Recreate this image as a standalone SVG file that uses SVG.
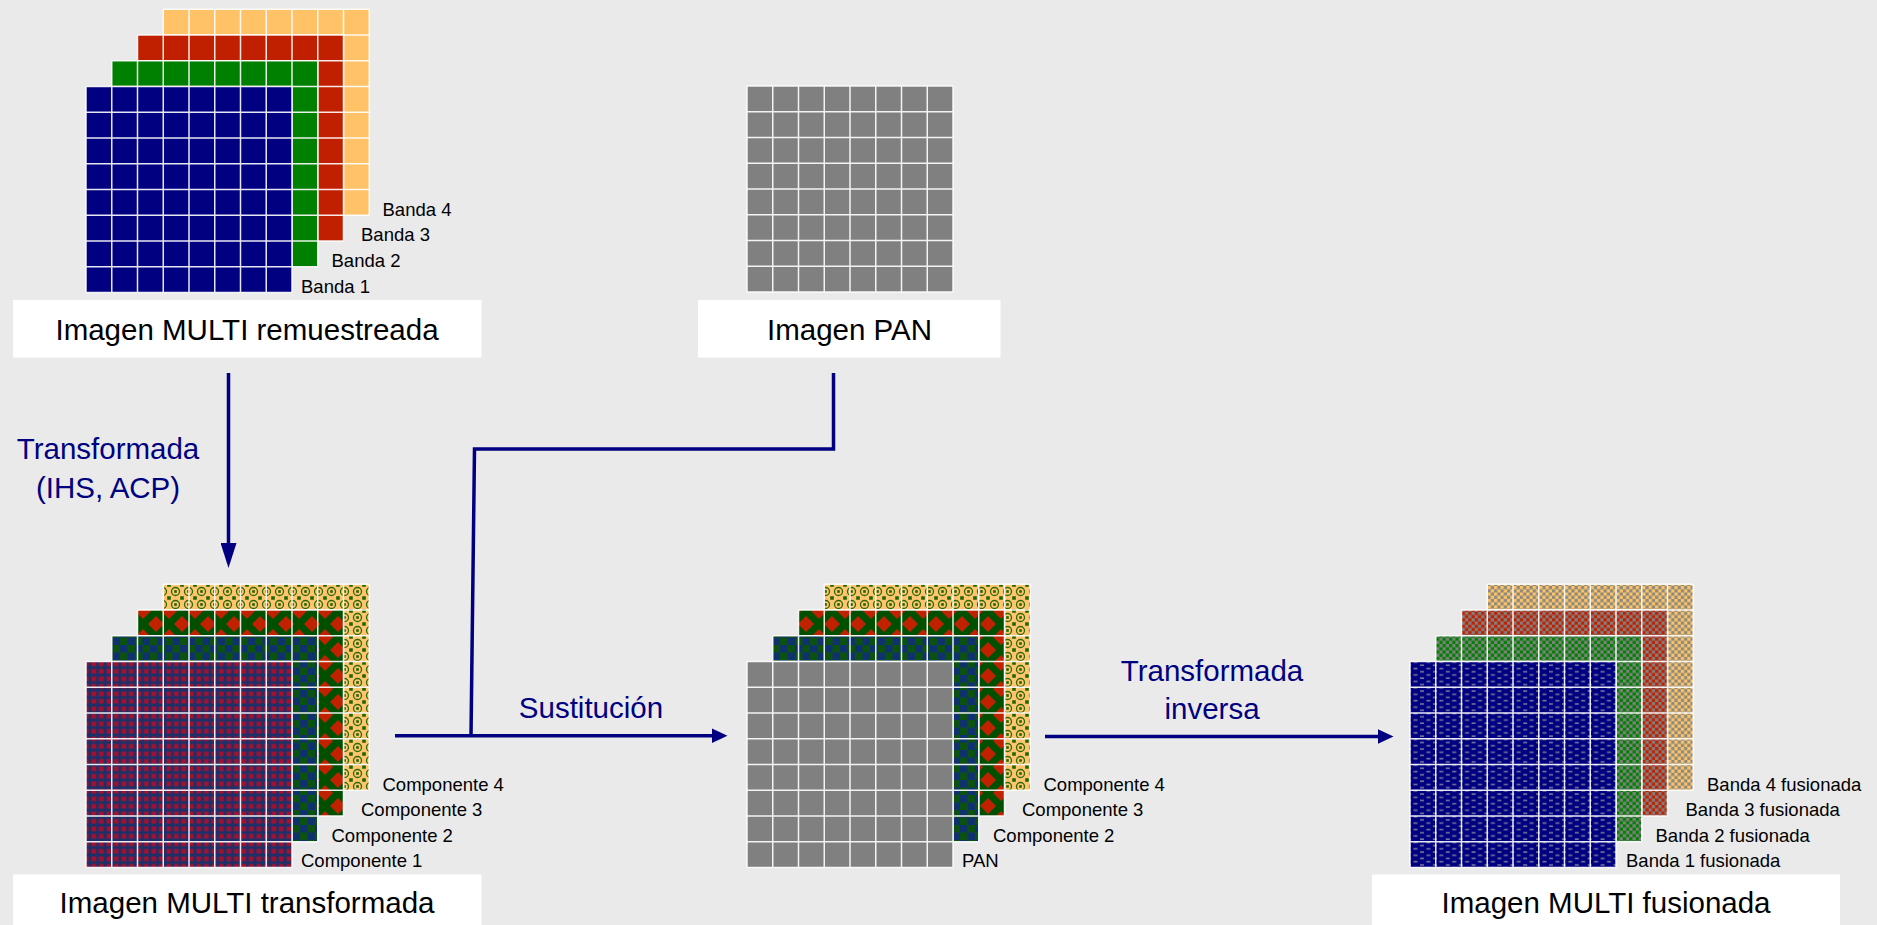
<svg xmlns="http://www.w3.org/2000/svg" xmlns:xlink="http://www.w3.org/1999/xlink" width="1877" height="925" viewBox="0 0 1877 925">
<style>
.bg{fill:#EAEAEA}
.box{fill:#FFFFFF}
.title{font-family:"Liberation Sans",Arial,sans-serif;font-size:29.5px;fill:#000000;text-anchor:middle}
.step{font-family:"Liberation Sans",Arial,sans-serif;font-size:29.5px;fill:#000080;text-anchor:middle}
.lbl{font-family:"Liberation Sans",Arial,sans-serif;font-size:18.5px;fill:#000000}
.conn{fill:none;stroke:#000080;stroke-width:3.5}
.gridl{fill:none;stroke:#FFFFFF;stroke-width:1.5;stroke-opacity:0.9}
</style>
<defs>
<path id="grid" class="gridl" d="M0 0V206M25.75 0V206M51.5 0V206M77.25 0V206M103 0V206M128.75 0V206M154.5 0V206M180.25 0V206M206 0V206M0 0H206M0 25.75H206M0 51.5H206M0 77.25H206M0 103H206M0 128.75H206M0 154.5H206M0 180.25H206M0 206H206"/>
<pattern id="p-c1" width="7.5" height="7.5" patternUnits="userSpaceOnUse">
<rect width="7.5" height="7.5" fill="#1E3068"/>
<rect x="1.5" y="1.5" width="4.6" height="4.6" fill="#A5102E"/>
</pattern>
<pattern id="p-c2" width="15" height="15" patternUnits="userSpaceOnUse">
<rect width="15" height="15" fill="#0B5210"/>
<rect width="7.5" height="7.5" fill="#0F316E"/>
<rect x="7.5" y="7.5" width="7.5" height="7.5" fill="#0F316E"/>
</pattern>
<pattern id="p-c3" width="26" height="26" patternUnits="userSpaceOnUse">
<rect width="26" height="26" fill="#005000"/>
<path d="M13 5L21 13L13 21L5 13Z M0 -8L8 0L0 8L-8 0Z M26 -8L34 0L26 8L18 0Z M0 18L8 26L0 34L-8 26Z M26 18L34 26L26 34L18 26Z" fill="#C02200"/>
</pattern>
<pattern id="p-c4" width="13" height="13" patternUnits="userSpaceOnUse">
<rect width="13" height="13" fill="#FFC46E"/>
<circle cx="6.5" cy="6.5" r="4" fill="none" stroke="#2A6A06" stroke-width="1.3"/>
<rect x="5.2" y="5.2" width="2.6" height="2.6" fill="#1E6400"/>
<path d="M0 0h1.8v1.8h-1.8z M11.2 0h1.8v1.8h-1.8z M0 11.2h1.8v1.8h-1.8z M11.2 11.2h1.8v1.8h-1.8z" fill="#1E6400"/>
</pattern>
<pattern id="p-f1" width="12.9" height="6.44" patternUnits="userSpaceOnUse">
<rect width="12.9" height="6.44" fill="#000080"/>
<rect x="1" y="1.2" width="4" height="1.6" fill="#76769A"/>
<rect x="7.4" y="4.4" width="4" height="1.6" fill="#76769A"/>
</pattern>
<pattern id="p-f2" width="6.44" height="6.44" patternUnits="userSpaceOnUse">
<rect width="6.44" height="6.44" fill="#808080"/>
<rect width="3.22" height="3.22" fill="#008000"/>
<rect x="3.22" y="3.22" width="3.22" height="3.22" fill="#008000"/>
</pattern>
<pattern id="p-f3" width="6.44" height="6.44" patternUnits="userSpaceOnUse">
<rect width="6.44" height="6.44" fill="#808080"/>
<rect width="3.22" height="3.22" fill="#C02000"/>
<rect x="3.22" y="3.22" width="3.22" height="3.22" fill="#C02000"/>
</pattern>
<pattern id="p-f4" width="6.44" height="6.44" patternUnits="userSpaceOnUse">
<rect width="6.44" height="6.44" fill="#8A8A80"/>
<rect width="3.22" height="3.22" fill="#FFC266"/>
<rect x="3.22" y="3.22" width="3.22" height="3.22" fill="#FFC266"/>
</pattern>
<marker id="ah" markerUnits="userSpaceOnUse" markerWidth="16" markerHeight="15" refX="1" refY="7.5" orient="auto">
<path d="M0 0L16 7.5L0 15Z" fill="#000080"/>
</marker>
<marker id="ahl" markerUnits="userSpaceOnUse" markerWidth="25" markerHeight="16" refX="1" refY="8" orient="auto">
<path d="M0 0L25 8L0 16Z" fill="#000080"/>
</marker>
</defs>

<rect class="bg" x="0" y="0" width="1877" height="925"/>

<g id="multi-remuestreada">
<rect x="163.25" y="9.25" width="206" height="206" fill="#FFC266"/><use xlink:href="#grid" href="#grid" x="163.25" y="9.25"/>
<rect x="137.5" y="35" width="206" height="206" fill="#C02000"/><use xlink:href="#grid" href="#grid" x="137.5" y="35"/>
<rect x="111.75" y="60.75" width="206" height="206" fill="#008000"/><use xlink:href="#grid" href="#grid" x="111.75" y="60.75"/>
<rect x="86" y="86.5" width="206" height="206" fill="#000080"/><use xlink:href="#grid" href="#grid" x="86" y="86.5"/>
<text class="lbl" x="382.5" y="215.5">Banda 4</text>
<text class="lbl" x="361" y="241">Banda 3</text>
<text class="lbl" x="331.5" y="267">Banda 2</text>
<text class="lbl" x="301" y="292.5">Banda 1</text>
<rect class="box" x="13" y="300" width="468.5" height="57.5"/>
<text class="title" x="247" y="340">Imagen MULTI remuestreada</text>
</g>

<g id="pan">
<rect x="747" y="86" width="206" height="206" fill="#808080"/><use xlink:href="#grid" href="#grid" x="747" y="86"/>
<rect class="box" x="698" y="300" width="302.5" height="57.5"/>
<text class="title" x="849.5" y="340">Imagen PAN</text>
</g>

<g id="multi-transformada">
<rect x="163.25" y="584.25" width="206" height="206" fill="url(#p-c4)"/><use xlink:href="#grid" href="#grid" x="163.25" y="584.25"/>
<rect x="137.5" y="610" width="206" height="206" fill="url(#p-c3)"/><use xlink:href="#grid" href="#grid" x="137.5" y="610"/>
<rect x="111.75" y="635.75" width="206" height="206" fill="url(#p-c2)"/><use xlink:href="#grid" href="#grid" x="111.75" y="635.75"/>
<rect x="86" y="661.5" width="206" height="206" fill="url(#p-c1)"/><use xlink:href="#grid" href="#grid" x="86" y="661.5"/>
<text class="lbl" x="382.5" y="790.5">Componente 4</text>
<text class="lbl" x="361" y="815.5">Componente 3</text>
<text class="lbl" x="331.5" y="841.5">Componente 2</text>
<text class="lbl" x="301" y="867">Componente 1</text>
<rect class="box" x="13" y="874.5" width="468.5" height="60"/>
<text class="title" x="247" y="913">Imagen MULTI transformada</text>
</g>

<g id="sustitucion-stack">
<rect x="824.25" y="584.25" width="206" height="206" fill="url(#p-c4)"/><use xlink:href="#grid" href="#grid" x="824.25" y="584.25"/>
<rect x="798.5" y="610" width="206" height="206" fill="url(#p-c3)"/><use xlink:href="#grid" href="#grid" x="798.5" y="610"/>
<rect x="772.75" y="635.75" width="206" height="206" fill="url(#p-c2)"/><use xlink:href="#grid" href="#grid" x="772.75" y="635.75"/>
<rect x="747" y="661.5" width="206" height="206" fill="#808080"/><use xlink:href="#grid" href="#grid" x="747" y="661.5"/>
<text class="lbl" x="1043.5" y="790.5">Componente 4</text>
<text class="lbl" x="1022" y="815.5">Componente 3</text>
<text class="lbl" x="993" y="841.5">Componente 2</text>
<text class="lbl" x="962" y="867">PAN</text>
</g>

<g id="multi-fusionada">
<rect x="1487.25" y="584.25" width="206" height="206" fill="url(#p-f4)"/><use xlink:href="#grid" href="#grid" x="1487.25" y="584.25"/>
<rect x="1461.5" y="610" width="206" height="206" fill="url(#p-f3)"/><use xlink:href="#grid" href="#grid" x="1461.5" y="610"/>
<rect x="1435.75" y="635.75" width="206" height="206" fill="url(#p-f2)"/><use xlink:href="#grid" href="#grid" x="1435.75" y="635.75"/>
<rect x="1410" y="661.5" width="206" height="206" fill="url(#p-f1)"/><use xlink:href="#grid" href="#grid" x="1410" y="661.5"/>
<text class="lbl" x="1707" y="790.5">Banda 4 fusionada</text>
<text class="lbl" x="1685.5" y="815.5">Banda 3 fusionada</text>
<text class="lbl" x="1655.5" y="841.5">Banda 2 fusionada</text>
<text class="lbl" x="1626" y="867">Banda 1 fusionada</text>
<rect class="box" x="1372" y="874.5" width="468" height="60"/>
<text class="title" x="1606" y="913">Imagen MULTI fusionada</text>
</g>

<g id="connectors">
<path class="conn" d="M228.5 373V544" marker-end="url(#ahl)"/>
<path class="conn" d="M833.5 373V449H474.5L471 735.7"/>
<path class="conn" d="M395 735.7H712.5" marker-end="url(#ah)"/>
<path class="conn" d="M1045 736.5H1378.5" marker-end="url(#ah)"/>
<text class="step" x="108" y="459">Transformada</text>
<text class="step" x="108" y="497.5">(IHS, ACP)</text>
<text class="step" x="591" y="718">Sustitución</text>
<text class="step" x="1212" y="681">Transformada</text>
<text class="step" x="1212" y="719.3">inversa</text>
</g>
</svg>
